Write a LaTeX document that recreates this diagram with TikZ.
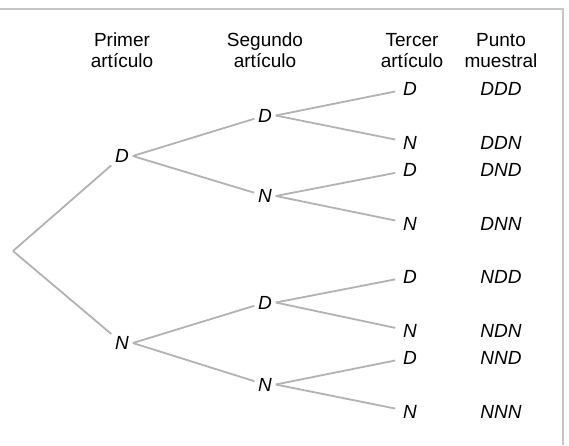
\documentclass[tikz,border=0pt]{standalone}
\usepackage{fontspec}
\setmainfont{Liberation Sans}

\begin{document}
\begin{tikzpicture} [x=1pt, y=-1pt, line width=1.8pt,
  rama/.style={draw=gray!60},
  marco/.style={draw=gray!45, line width=2pt},
  art/.style={font=\fontsize{19}{21}\selectfont\itshape, inner sep=3pt},
  hoja/.style={art, inner xsep=7pt},
  encab/.style={font=\fontsize{19}{21}\selectfont, align=center, anchor=base, inner sep=0pt}]
\useasboundingbox (0,0) rectangle (569,445);
\draw[marco] (0,8.5) -- (563,8.5) -- (563,445);
\node[encab](h1) at (122,67) {Primer\\artículo};
\node[encab](h2) at (265,67) {Segundo\\artículo};
\node[encab](h3) at (412,67) {Tercer\\artículo};
\node[encab](h4) at (501,67) {Punto\\muestral};
\coordinate (r) at (13,251);
\node[art](a1) at (122,156) {D};
\node[art](a2) at (122,343) {N};
\node[art](b1) at (265,115.5) {D};
\node[art](b2) at (265,196) {N};
\node[art](b3) at (265,302.5) {D};
\node[art](b4) at (265,384.5) {N};
\node[hoja](c1) at (410,88.5) {D};
\node[hoja](c2) at (410,142.5) {N};
\node[hoja](c3) at (410,170) {D};
\node[hoja](c4) at (410,223.5) {N};
\node[hoja](c5) at (410,276.5) {D};
\node[hoja](c6) at (410,331) {N};
\node[hoja](c7) at (410,357.5) {D};
\node[hoja](c8) at (410,411.5) {N};
\node[art](p1) at (501,88.5) {DDD};
\node[art](p2) at (501,142.5) {DDN};
\node[art](p3) at (501,170) {DND};
\node[art](p4) at (501,223.5) {DNN};
\node[art](p5) at (501,276.5) {NDD};
\node[art](p6) at (501,331) {NDN};
\node[art](p7) at (501,357.5) {NND};
\node[art](p8) at (501,411.5) {NNN};
\draw[rama] (r) -- (a1);
\draw[rama] (r) -- (a2);
\draw[rama] (a1.east) -- (b1);
\draw[rama] (a1.east) -- (b2);
\draw[rama] (a2.east) -- (b3);
\draw[rama] (a2.east) -- (b4);
\draw[rama] (b1.east) -- (c1);
\draw[rama] (b1.east) -- (c2);
\draw[rama] (b2.east) -- (c3);
\draw[rama] (b2.east) -- (c4);
\draw[rama] (b3.east) -- (c5);
\draw[rama] (b3.east) -- (c6);
\draw[rama] (b4.east) -- (c7);
\draw[rama] (b4.east) -- (c8);
\end{tikzpicture}
\end{document}
